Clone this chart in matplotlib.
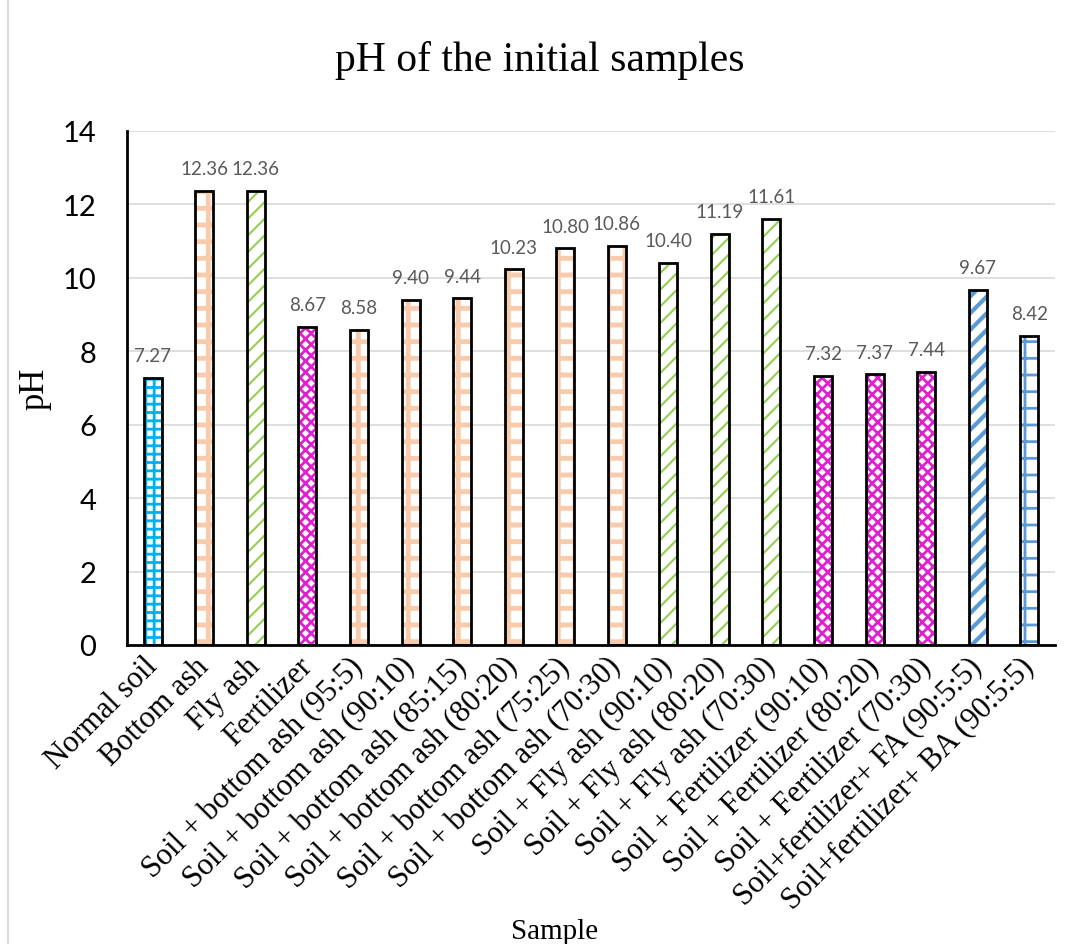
import matplotlib
matplotlib.use("Agg")
import matplotlib.pyplot as plt
from matplotlib.patches import Rectangle

samples = [
    "Normal soil", "Bottom ash", "Fly ash", "Fertilizer",
    "Soil + bottom ash (95:5)", "Soil + bottom ash (90:10)",
    "Soil + bottom ash (85:15)", "Soil + bottom ash (80:20)",
    "Soil + bottom ash (75:25)", "Soil + bottom ash (70:30)",
    "Soil + Fly ash (90:10)", "Soil + Fly ash (80:20)", "Soil + Fly ash (70:30)",
    "Soil + Fertilizer (90:10)", "Soil + Fertilizer (80:20)",
    "Soil + Fertilizer (70:30)", "Soil+fertilizer+ FA (90:5:5)",
    "Soil+fertilizer+ BA (90:5:5)",
]
ph = [7.27, 12.36, 12.36, 8.67, 8.58, 9.40, 9.44, 10.23, 10.80, 10.86,
      10.40, 11.19, 11.61, 7.32, 7.37, 7.44, 9.67, 8.42]
groups = ["soil", "ba", "fa", "fert", "ba", "ba", "ba", "ba", "ba", "ba",
          "fa", "fa", "fa", "fert", "fert", "fert", "sfa", "sba"]

# pattern colour, hatch, hatch line width
styles = {
    "soil": ("#00B0F0", "++", 2.0),
    "ba": ("#F8CBAD", "+", 3.5),
    "fa": ("#92D050", "//", 1.5),
    "fert": ("#E020D0", "xxx", 2.0),
    "sfa": ("#5B9BD5", "//", 3.0),
    "sba": ("#5B9BD5", "+", 2.0),
}

fig = plt.figure(figsize=(10.69, 9.45), dpi=100)
ax = fig.add_axes([127 / 1069, 1 - 646 / 945, (1055 - 127) / 1069, (646 - 132) / 945])

x = list(range(len(samples)))
w = 0.35
for xi, v, g in zip(x, ph, groups):
    col, hatch, hlw = styles[g]
    plt.rcParams["hatch.linewidth"] = hlw
    ax.bar(xi, v, width=w, color="white", edgecolor=col, hatch=hatch,
           linewidth=0, zorder=3)
    ax.bar(xi, v, width=w, color="none", edgecolor="black", linewidth=2, zorder=4)
    ax.annotate(f"{v:.2f}", (xi, v), xytext=(0, 10), textcoords="offset points",
                ha="center", va="bottom", fontsize=13.5, color="#595959",
                family="Lato")

ax.set_xlim(-0.5, len(samples) - 0.5)
ax.set_ylim(0, 14)
ax.set_yticks(range(0, 15, 2))
ax.tick_params(axis="y", length=0, labelsize=21, pad=22)
for lab in ax.get_yticklabels():
    lab.set_family("Lato")
ax.tick_params(axis="x", length=0, pad=12)
ax.grid(axis="y", color="#D9D9D9", linewidth=1.2, zorder=0)
ax.set_axisbelow(True)
for s in ["top", "right"]:
    ax.spines[s].set_visible(False)
for s in ["left", "bottom"]:
    ax.spines[s].set_linewidth(2)
    ax.spines[s].set_zorder(5)

ax.set_xticks(x)
ax.set_xticklabels(samples, rotation=45, ha="right", va="center",
                   rotation_mode="anchor", fontsize=22, family="Liberation Serif")

ax.set_ylabel("pH", fontsize=25, family="Liberation Serif", labelpad=8)
fig.text(555 / 1069, 1 - 932 / 945, "Sample", ha="center", va="center",
         fontsize=21, family="Liberation Serif")
fig.text(540 / 1069, 1 - 60 / 945, "pH of the initial samples", ha="center",
         va="center", fontsize=30, family="Liberation Serif")

fig.patches.append(Rectangle((8 / 1069, -0.01), 1.05, 1.05, transform=fig.transFigure,
                             fill=False, edgecolor="#D9D9D9", linewidth=1.5))

fig.savefig("out.png", dpi=100)
